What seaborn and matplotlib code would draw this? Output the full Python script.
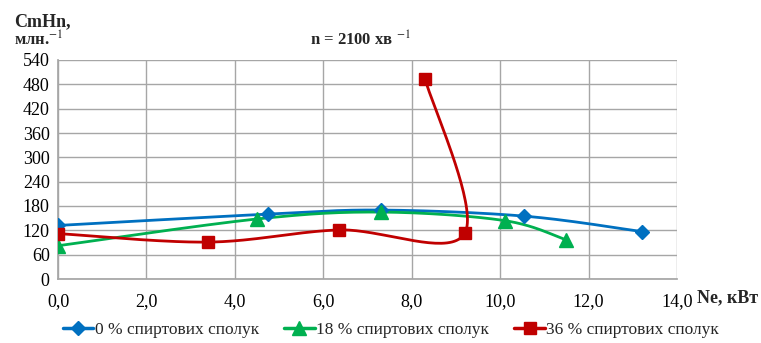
import numpy as np
import pandas as pd
import matplotlib
matplotlib.use("Agg")
import matplotlib.pyplot as plt
from matplotlib.lines import Line2D
from matplotlib.ticker import FuncFormatter
import seaborn as sns

# дані
ne_0 = [0.0, 4.75, 7.3, 10.55, 13.2]
ch_0 = [132, 160, 170, 155, 117]
ne_18 = [0.0, 4.5, 7.3, 10.1, 11.5]
ch_18 = [82, 148, 165, 144, 96]
ne_36 = [0.0, 3.4, 6.35, 9.2, 8.3]
ch_36 = [112, 91, 121, 113, 494]
labels = ["0 % спиртових сполук", "18 % спиртових сполук", "36 % спиртових сполук"]
colors = ["#0070C0", "#00B050", "#C00000"]
markers = ["D", "^", "s"]
msizes = [7, 10, 9]

XPX, YPX = 44.2, 0.4056  # px per unit, for Excel-like smoothing


def smooth(xs, ys, n=40):
    # catmull-rom / bezier like Excel smoothed lines, computed in screen units
    p = np.column_stack([np.array(xs) * XPX, np.array(ys) * YPX])
    out = [p[0]]
    for i in range(len(p) - 1):
        p0 = p[i - 1] if i > 0 else p[i]
        p3 = p[i + 2] if i + 2 < len(p) else p[i + 1]
        c1 = p[i] + (p[i + 1] - p0) / 6
        c2 = p[i + 1] - (p3 - p[i]) / 6
        t = np.linspace(0, 1, n)[1:, None]
        seg = ((1 - t) ** 3 * p[i] + 3 * (1 - t) ** 2 * t * c1
               + 3 * (1 - t) * t ** 2 * c2 + t ** 3 * p[i + 1])
        out.extend(seg)
    out = np.array(out)
    return out[:, 0] / XPX, out[:, 1] / YPX


sns.set_theme(style="whitegrid")
plt.rcParams["font.family"] = ["Liberation Serif", "DejaVu Serif"]
plt.rcParams["mathtext.fontset"] = "stix"

fig = plt.figure(figsize=(7.61, 3.43), dpi=100)
ax = fig.add_axes([58 / 761, 64 / 343, 619 / 761, 219 / 343])

series = [(ne_0, ch_0), (ne_18, ch_18), (ne_36, ch_36)]
for (xs, ys), c, m, ms in zip(series, colors, markers, msizes):
    sx, sy = smooth(xs, ys)
    curve = pd.DataFrame({"x": sx, "y": sy})
    sns.lineplot(data=curve, x="x", y="y", sort=False, color=c, lw=2, ax=ax,
                 estimator=None)
    pts = pd.DataFrame({"x": xs, "y": ys})
    ax.plot(pts["x"], pts["y"], ls="none", marker=m, ms=ms, color=c, zorder=5)

ax.set_xlim(0, 14)
ax.set_ylim(0, 540)
ax.set_xticks(np.arange(0, 15, 2))
ax.set_yticks(np.arange(0, 541, 60))
ax.xaxis.set_major_formatter(FuncFormatter(lambda v, _: f"{v:.1f}".replace(".", ",")))
ax.set_xlabel("")
ax.set_ylabel("")
ax.tick_params(axis="both", labelsize=13, colors="#000000", length=0, pad=6)
ax.tick_params(axis="x", pad=10)
ax.grid(True, color="#A6A6A6", lw=1)
for s in ax.spines.values():
    s.set_visible(False)
ax.spines["left"].set_visible(True)
ax.spines["bottom"].set_visible(True)
ax.spines["left"].set_color("#A6A6A6")
ax.spines["bottom"].set_color("#A6A6A6")

fig.text(14 / 761, 1 - 22 / 343, "СmНn,", fontsize=13, fontweight="bold", va="center")
fig.text(14 / 761, 1 - 40 / 343, "млн.$^{-1}$", fontsize=12, fontweight="bold", va="center")
fig.text(310 / 761, 1 - 40 / 343, "n = 2100 хв $^{-1}$", fontsize=12, fontweight="bold", va="center")
fig.text(697 / 761, 1 - 298 / 343, "Ne, кВт", fontsize=13, fontweight="bold", va="center")

handles = [Line2D([], [], color=c, marker=m, ms=ms, lw=2.5)
           for c, m, ms in zip(colors, markers, msizes)]
fig.legend(handles, labels, loc="center", bbox_to_anchor=(391 / 761, 1 - 330 / 343), ncol=3,
           frameon=False, fontsize=12.5, handlelength=1.75, handletextpad=0.1,
           columnspacing=1.45)

fig.savefig("out.png", dpi=100)
